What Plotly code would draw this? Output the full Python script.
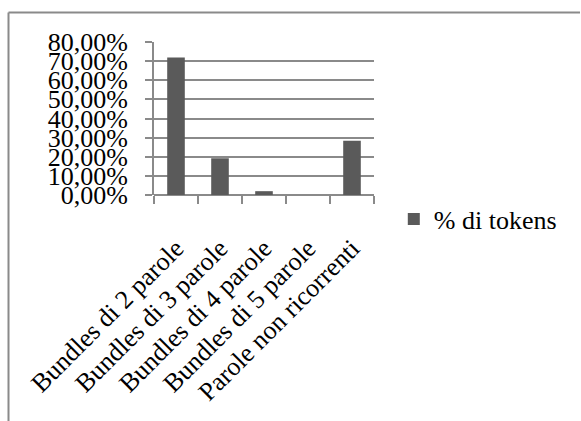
import plotly.graph_objects as go

categories = ["Bundles di 2 parole", "Bundles di 3 parole", "Bundles di 4 parole",
              "Bundles di 5 parole", "Parole non ricorrenti"]
values = [71.9, 19.2, 2.0, 0.0, 28.4]
series_name = "% di tokens"
y_ticks = [0, 10, 20, 30, 40, 50, 60, 70, 80]
y_tick_labels = ["0,00%", "10,00%", "20,00%", "30,00%", "40,00%", "50,00%", "60,00%", "70,00%", "80,00%"]

FONT = "Liberation Serif"
FS = 26
GRID = "#8a8a8a"

fig = go.Figure()
fig.add_trace(go.Bar(x=categories, y=values, name=series_name,
                     marker=dict(color="#5a5a5a", line=dict(width=0))))

W, H = 581, 421
ml, mr, mt, mb = 154, 207, 42, 226
fig.update_layout(
    width=W, height=H,
    margin=dict(l=ml, r=mr, t=mt, b=mb, autoexpand=False),
    paper_bgcolor="white", plot_bgcolor="white",
    font=dict(family=FONT, size=FS, color="black"),
    bargap=0.6,
    showlegend=True,
    legend=dict(x=1.09, y=-0.157, xanchor="left", yanchor="middle",
                font=dict(family=FONT, size=FS), itemwidth=30,
                bgcolor="rgba(0,0,0,0)"),
    xaxis=dict(showgrid=False, showline=False, ticks="outside", tickson="boundaries",
               ticklen=8, tickcolor=GRID, tickwidth=2, tickangle=-45,
               ticklabelstandoff=32,
               tickfont=dict(family=FONT, size=FS)),
    yaxis=dict(range=[0, 80], tickvals=y_ticks, ticktext=y_tick_labels,
               showgrid=True, gridcolor=GRID, gridwidth=2,
               showline=True, linecolor=GRID, linewidth=2,
               ticks="outside", ticklen=7, tickcolor=GRID, tickwidth=2,
               ticklabelstandoff=12, zeroline=True, zerolinecolor=GRID, zerolinewidth=2,
               tickfont=dict(family=FONT, size=FS)),
)

pw, ph = W - ml - mr, H - mt - mb
def px(x): return (x - ml) / pw
def py(y): return (H - mb - y) / ph

fig.add_shape(type="line", xref="paper", yref="paper",
              x0=px(8.5), y0=py(12.5), x1=px(580), y1=py(12.5),
              line=dict(color=GRID, width=2))
fig.add_shape(type="line", xref="paper", yref="paper",
              x0=px(8.5), y0=py(12.5), x1=px(8.5), y1=py(421),
              line=dict(color=GRID, width=2))

fig.write_html("out.html")
